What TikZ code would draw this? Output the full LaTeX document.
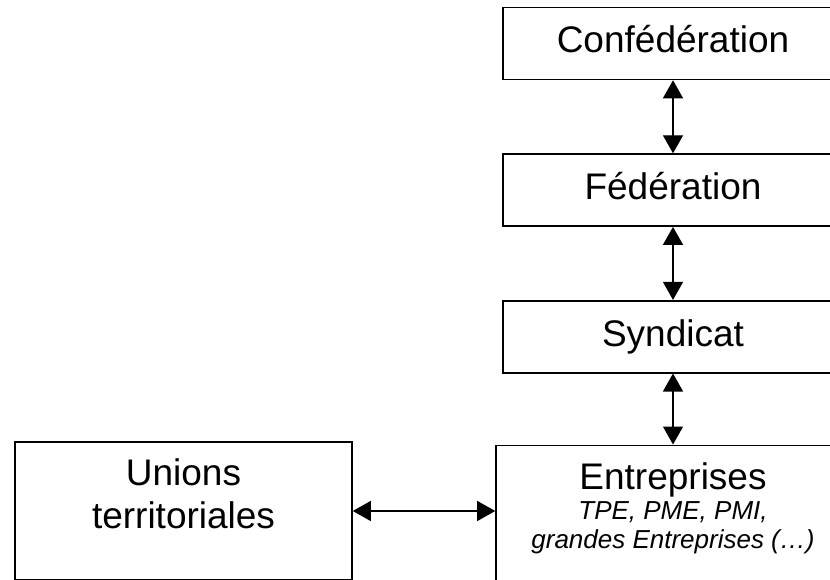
\documentclass[tikz,border=0pt]{standalone}
\usepackage{fontspec}
\setmainfont{Liberation Sans}
\usetikzlibrary{arrows.meta,positioning}

\begin{document}
\begin{tikzpicture}[
    x=1pt, y=-1pt,
    box/.style={draw, line width=1.6pt, inner sep=0},
    level/.style={box, minimum width=340pt, minimum height=72pt,
        text height=26pt, text depth=7pt, font=\fontsize{37}{42.5}\selectfont},
    base/.style={box, minimum width=#1, minimum height=138pt},
    title/.style={align=center, inner sep=0, anchor=base, font=\fontsize{37}{42.5}\selectfont},
    sub/.style={align=center, inner sep=0, anchor=base, font=\fontsize{26}{29.5}\selectfont\itshape},
    link/.style={{Triangle[width=20pt,length=18pt]}-{Triangle[width=20pt,length=18pt]}, line width=1.3pt}]
\clip (0,0) rectangle (830,580);

% chain of levels
\node[level] (conf) at (673,43.5) {Confédération};
\node[level, below=73pt of conf] (fed) {Fédération};
\node[level, below=73pt of fed] (synd) {Syndicat};

% bottom row
\node[base=354pt, below=71pt of synd] (entr) {};
\node[base=337pt] (unions) at (183.5,511) {};

% base anchor = last line
\node[title] (unions-name) at ([yshift=-87pt]unions.north) {Unions\\territoriales};
\node[title] (entr-name) at ([yshift=-45pt]entr.north) {Entreprises};
\node[sub] (entr-kinds) at ([yshift=-59pt]entr-name.base) {TPE, PME, PMI,\\grandes Entreprises (…)};

\draw[link] (conf) -- (fed);
\draw[link] (fed) -- (synd);
\draw[link] (synd) -- (entr);
\draw[link] (unions.east) -- (unions.east -| entr.west);

\end{tikzpicture}
\end{document}
